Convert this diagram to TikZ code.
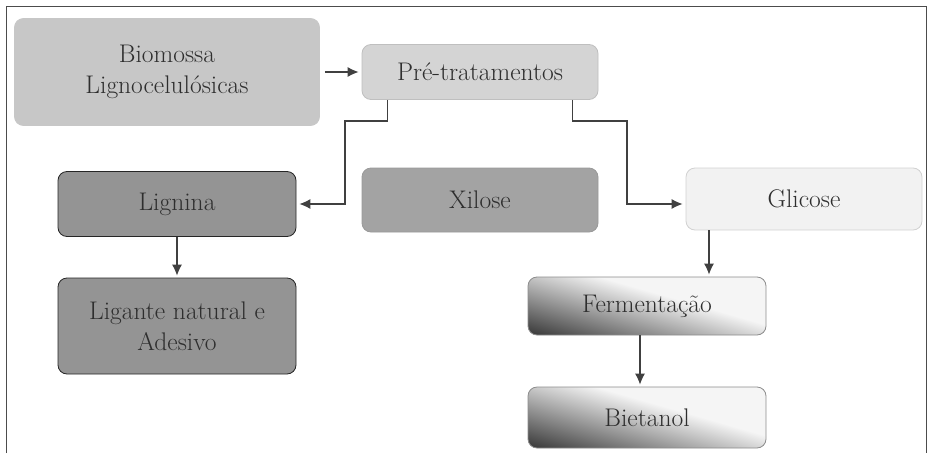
\documentclass[tikz,border=0pt]{standalone}
\usetikzlibrary{arrows.meta,calc}
\begin{document}
\begin{tikzpicture}[x=1pt,y=-1pt,
  box/.style={rounded corners=9pt,draw,line width=0.8pt,align=center,
    font=\fontsize{25.5}{31}\selectfont,text=black!82,inner sep=0pt},
  conn/.style={line width=1.1pt,draw=black!75,-{Latex[length=11pt,width=10pt]}},
  gradfill/.style={bottom color=black!80,middle color=black!45,top color=black!4}
]
\useasboundingbox (0,0) rectangle (932,453);
\draw[line width=1pt,black!70] (6,453) -- (6,6) -- (926,6) -- (926,453);

\node[box,fill=black!22,draw=black!22,minimum width=305pt,minimum height=107pt] (bio) at (167,72) {Biomossa\\Lignocelulósicas};
\node[box,fill=black!17,draw=black!25,minimum width=236pt,minimum height=55pt] (pre) at (480,72) {Pré-tratamentos};
\node[box,fill=black!42,draw=black!85,minimum width=238pt,minimum height=65pt] (lig) at (177,204) {Lignina};
\node[box,fill=black!36,draw=black!40,minimum width=236pt,minimum height=64pt] (xil) at (480,200) {Xilose};
\node[box,fill=black!5,draw=black!18,minimum width=236pt,minimum height=62pt] (gli) at (804,199) {Glicose};
\node[box,fill=black!42,draw=black!85,minimum width=238pt,minimum height=96pt] (ade) at (177,326) {Ligante natural e\\Adesivo};

% gradient backgrounds
\begin{scope}
\clip[rounded corners=9pt] (528,277) rectangle (766,335);
\fill[black!4] (528,277) rectangle (766,335);
\shade[gradfill,transform canvas={rotate around={-16:(647,306)}}] (487,291) rectangle (807,368);
\end{scope}
\begin{scope}
\clip[rounded corners=9pt] (528,387) rectangle (766,448);
\fill[black!4] (528,387) rectangle (766,448);
\shade[gradfill,transform canvas={rotate around={-16:(647,417.5)}}] (487,402) rectangle (807,481);
\end{scope}
\node[box,draw=black!45,minimum width=238pt,minimum height=58pt] (fer) at (647,306) {Fermentação};
\node[box,draw=black!45,minimum width=238pt,minimum height=61pt] (bie) at (647,417.5) {Bietanol};

\draw[conn,shorten <=5pt,shorten >=3pt] (bio.east) -- (pre.west);
\draw[conn,shorten >=3pt] ($(pre.south west)+(26,0)$) |- (345,121) |- (lig.east);
\draw[conn,shorten >=3pt] ($(pre.south east)+(-26,0)$) |- (627,121) |- ($(gli.west)+(0,5)$);
\draw[conn,shorten >=2pt] (lig.south) -- (ade.north);
\draw[conn,shorten >=2pt] (gli.south -| 709,0) -- (fer.north -| 709,0);
\draw[conn,shorten >=2pt] (fer.south -| 640,0) -- (bie.north -| 640,0);
\end{tikzpicture}
\end{document}
